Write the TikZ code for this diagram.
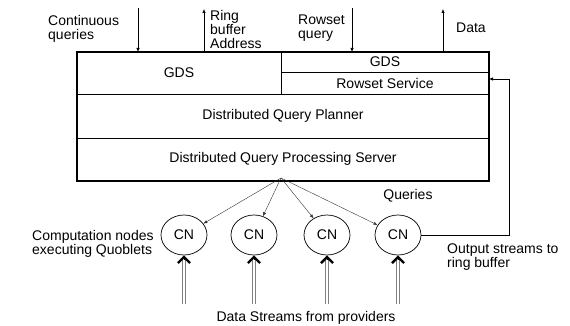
\documentclass[tikz,border=0pt]{standalone}
\usepackage{fontspec}
\setmainfont{Liberation Sans}
\usetikzlibrary{arrows.meta,positioning,shapes.geometric}

\begin{document}
\begin{tikzpicture}[x=1pt,y=-1pt,
  every node/.style={font=\fontsize{14}{14}\selectfont},
  lbl/.style={align=left,anchor=west,inner sep=0pt},
  cn/.style={draw,ellipse,minimum width=46pt,minimum height=40pt,inner sep=0pt,line width=0.7pt},
  io/.style={-{Latex[length=4pt,width=3.4pt]},line width=0.6pt},
  qry/.style={-{Latex[length=4pt,width=3.2pt]},line width=0.4pt,draw=black!80},
  stream/.style={draw=black,line width=0.8pt,
    -{Straight Barb[length=6pt,width=12pt,line width=2.4pt]},
    preaction={draw=black!50,line width=3.6pt,shorten >=5pt,-},
    postaction={draw=white,line width=1.3pt,shorten >=5pt,-}}]
\useasboundingbox (0,0) rectangle (570,326);

% server box and its layers
\draw[line width=1.3pt] (77,52) rectangle (489,181);
\draw[line width=0.8pt] (281,52) -- (281,94)
  (281,72) -- (489,72)
  (77,94) -- (489,94)
  (77,138) -- (489,138);

\node (gdsl) at (179,73) {GDS};
\node (gdsr) at (385,62) {GDS};
\node (rowset) at (385,83.5) {Rowset Service};
\node (planner) at (283,116) {Distributed Query Planner};
\node (server) at (283,159) {Distributed Query Processing Server};

% inputs and outputs on top
\coordinate (cqtop) at (138,8);   \coordinate (cqin) at (138,52);
\coordinate (rbout) at (204,52);  \coordinate (rbtop) at (204,9);
\coordinate (rqtop) at (352,8);   \coordinate (rqin) at (352,52);
\coordinate (dout) at (443,52);   \coordinate (dtop) at (443,9);
\draw[io] (cqtop) -- (cqin);
\draw[io] (rbout) -- (rbtop);
\draw[io] (rqtop) -- (rqin);
\draw[io] (dout) -- (dtop);

\node[lbl] (cqlbl) at (48,28.5) {Continuous\\queries};
\node[lbl] (rblbl) at (210,29) {Ring\\buffer\\Address};
\node[lbl] (rqlbl) at (298,28.5) {Rowset\\query};
\node[lbl] (dlbl) at (456,28) {Data};

% computation nodes
\node[cn] (cn1) at (184,235) {CN};
\node[cn] (cn2) at (254,235) {CN};
\node[cn] (cn3) at (327,235) {CN};
\node[cn] (cn4) at (398,235) {CN};

\coordinate (fan) at (281,178);
\foreach \i in {1,...,4}
  \draw[qry] (fan) -- (cn\i);

\node (qlbl) at (408,196) {Queries};
\node[lbl] (cnlbl) at (32,244) {Computation nodes\\executing Quoblets};

% results go back to the rowset service
\coordinate (fbtop) at (509,79);
\coordinate (fbin) at (489,79);
\draw[io] (cn4.east) -| (fbtop) -- (fbin);
\node[lbl] (outlbl) at (447,257) {Output streams to\\ring buffer};

% incoming data streams
\foreach \i/\x in {1/184,2/254,3/327,4/398} {
  \coordinate (s\i) at (\x,304);
  \draw[stream] (s\i) -- (cn\i);
}
\node (dslbl) at (306,318) {Data Streams from providers};
\end{tikzpicture}
\end{document}
